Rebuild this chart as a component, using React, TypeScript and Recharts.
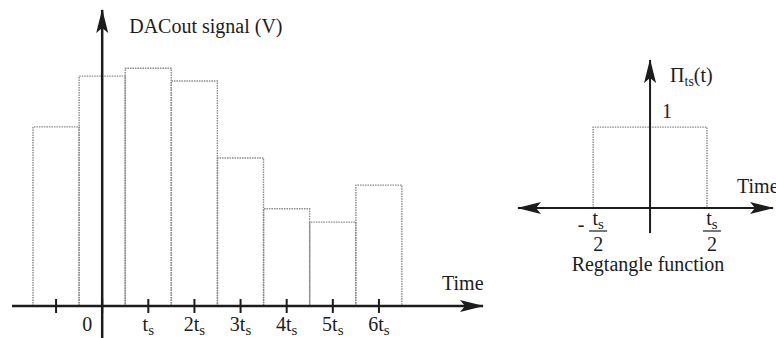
import React from 'react'
import { BarChart, Bar, XAxis, YAxis, ReferenceLine, ComposedChart, Line } from 'recharts'

// sampled DAC output (held for one sample period each)
const sampleTimes = ['-1', '0', '1', '2', '3', '4', '5', '6']
const sampleTickLabels = ['', '0', 'ts', '2ts', '3ts', '4ts', '5ts', '6ts']
const dacVolts = [3.63, 4.66, 4.82, 4.56, 3.0, 1.97, 1.7, 2.45]

// rectangle function Π_ts(t)
const rectTimes = [-0.5, -0.5, 0.5, 0.5]
const rectHeights = [0, 1, 1, 0]
const rectTicks = [-0.5, 0.5]

const FONT = '"Liberation Serif", "DejaVu Serif", serif'
const INK = '#1c1c1c'
const DOTS = '#8a8a8a'

const dacData = sampleTimes.map((t, i) => ({ t, v: dacVolts[i] }))
const rectData = rectTimes.map((t, i) => ({ t, v: rectHeights[i] }))

const Arrow = ({ id }: { id: string }) => (
  <marker
    id={id}
    viewBox="0 0 24 14"
    refX={23}
    refY={7}
    markerWidth={24}
    markerHeight={14}
    markerUnits="userSpaceOnUse"
    orient="auto-start-reverse"
  >
    <path d="M0,1 L24,7 L0,13 L5,7 Z" fill={INK} />
  </marker>
)

// hold box: top and sides only, the axis is the bottom
const HoldShape = (p: any) => {
  const { x, y, width, height } = p
  if (width == null || height == null) return null
  return (
    <path
      d={`M${x},${y + height} V${y} H${x + width} V${y + height}`}
      fill="none"
      stroke={DOTS}
      strokeWidth={1.4}
      strokeDasharray="1.5 1"
    />
  )
}

const SampleTick = (p: any) => {
  const { x, y, payload } = p
  const i = sampleTimes.indexOf(String(payload.value))
  const label = sampleTickLabels[i] ?? ''
  const hasSub = label.endsWith('s')
  const main = hasSub ? label.slice(0, -1) : label
  const lx = label === '0' ? x - 15 : x
  return (
    <g>
      <line x1={x} x2={x} y1={y - 7} y2={y + 7} stroke={INK} strokeWidth={2} />
      {label && (
        <text x={lx} y={y + 25} textAnchor="middle" fontFamily={FONT} fontSize={20} fill={INK}>
          {main}
          {hasSub && (
            <tspan fontSize={15} dy={4}>
              s
            </tspan>
          )}
        </text>
      )}
    </g>
  )
}

const HalfTick = (p: any) => {
  const { x, y, payload } = p
  const v = Number(payload.value)
  const cx = x + 5
  return (
    <g fontFamily={FONT} fill={INK}>
      {v < 0 && (
        <text x={cx - 17} y={y + 23} fontSize={20} textAnchor="middle">
          -
        </text>
      )}
      <text x={cx} y={y + 17} textAnchor="middle" fontSize={20}>
        t
        <tspan fontSize={15} dy={4}>
          s
        </tspan>
      </text>
      <line x1={cx - 9} x2={cx + 9} y1={y + 23} y2={y + 23} stroke={INK} strokeWidth={1.2} />
      <text x={cx} y={y + 43} textAnchor="middle" fontSize={20}>
        2
      </text>
    </g>
  )
}

const DacTitle = ({ viewBox }: any) => (
  <text x={viewBox.x + 27} y={viewBox.y + 23} fontFamily={FONT} fontSize={20} fill={INK}>
    DACout signal (V)
  </text>
)

const PiTitle = ({ viewBox }: any) => (
  <g fontFamily={FONT} fill={INK}>
    <text x={viewBox.x + 20} y={viewBox.y + 22} fontSize={20}>
      Π
      <tspan fontSize={14} dy={4}>
        ts
      </tspan>
      <tspan dy={-4} fontSize={20}>
        (t)
      </tspan>
    </text>
    <text x={viewBox.x + 12} y={viewBox.y + 58} fontSize={20}>
      1
    </text>
  </g>
)

const TimeLabel = (dx: number, dy: number) => ({ viewBox }: any) => (
  <text x={viewBox.x + viewBox.width + dx} y={viewBox.y + dy} fontFamily={FONT} fontSize={20} fill={INK}>
    Time
  </text>
)

export default function App() {
  return (
    <div style={{ position: 'absolute', left: 0, top: 0, width: 776, height: 338, background: '#fff', overflow: 'hidden' }}>
      <div style={{ position: 'absolute', left: 0, top: 0 }}>
        <BarChart
          width={500}
          height={338}
          data={dacData}
          margin={{ top: 10, right: 17, bottom: 0, left: 12 }}
          barCategoryGap={0}
          barGap={0}
        >
          <defs>
            <Arrow id="arrow-left-chart" />
          </defs>
          <XAxis
            dataKey="t"
            height={32}
            padding={{ left: 21, right: 81 }}
            interval={0}
            tickSize={0}
            tickMargin={0}
            tickLine={false}
            axisLine={{ stroke: INK, strokeWidth: 2.5, markerEnd: 'url(#arrow-left-chart)' }}
            tick={<SampleTick />}
            label={TimeLabel(-41, -16)}
          />
          <YAxis hide domain={[0, 6]} allowDataOverflow />
          <Bar dataKey="v" isAnimationActive={false} shape={<HoldShape />} />
          <ReferenceLine
            segment={[
              { x: '0', y: -0.66 },
              { x: '0', y: 6 },
            ]}
            ifOverflow="visible"
            stroke={INK}
            strokeWidth={2.5}
            markerEnd="url(#arrow-left-chart)"
            label={DacTitle}
          />
        </BarChart>
      </div>
      <div style={{ position: 'absolute', left: 500, top: 0 }}>
        <ComposedChart width={276} height={338} data={rectData} margin={{ top: 60, right: 3, bottom: 0, left: 18 }}>
          <defs>
            <Arrow id="arrow-right-chart" />
          </defs>
          <XAxis
            type="number"
            dataKey="t"
            domain={[-1.16, 1.08]}
            allowDataOverflow
            ticks={rectTicks}
            height={130}
            tickSize={0}
            tickMargin={0}
            tickLine={false}
            axisLine={{
              stroke: INK,
              strokeWidth: 2,
              markerStart: 'url(#arrow-right-chart)',
              markerEnd: 'url(#arrow-right-chart)',
            }}
            tick={<HalfTick />}
            label={TimeLabel(-36, -15)}
          />
          <YAxis hide type="number" domain={[0, 1.83]} allowDataOverflow />
          <Line
            dataKey="v"
            type="linear"
            dot={false}
            stroke={DOTS}
            strokeWidth={1.4}
            strokeDasharray="1.5 1"
            isAnimationActive={false}
          />
          <ReferenceLine
            segment={[
              { x: 0, y: -0.31 },
              { x: 0, y: 1.83 },
            ]}
            ifOverflow="visible"
            stroke={INK}
            strokeWidth={2}
            markerEnd="url(#arrow-right-chart)"
            label={PiTitle}
          />
        </ComposedChart>
      </div>
      <div
        style={{
          position: 'absolute',
          left: 500,
          width: 296,
          top: 254,
          lineHeight: '20px',
          textAlign: 'center',
          fontFamily: FONT,
          fontSize: 20,
          color: INK,
        }}
      >
        Regtangle function
      </div>
    </div>
  )
}
